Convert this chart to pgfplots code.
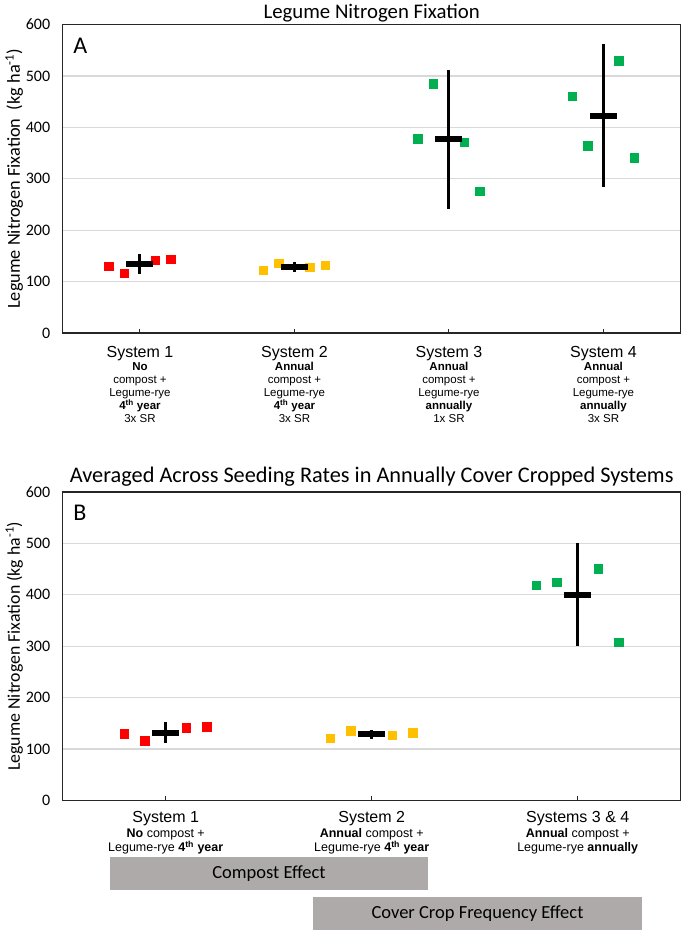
\documentclass[border=0pt]{standalone}
\usepackage{pgfplots}
\pgfplotsset{compat=1.18}
\usepackage{fontspec}
\setmainfont{Carlito}
\newfontfamily\arial{Liberation Sans}

\definecolor{sysred}{HTML}{FF0000}
\definecolor{sysyel}{HTML}{FFC000}
\definecolor{sysgrn}{HTML}{00B050}
\definecolor{boxgray}{HTML}{AEAAAA}
\definecolor{gridgray}{HTML}{D9D9D9}

\pgfplotsset{
  nfix/.style={
    scale only axis, width=618pt, height=308.5pt,
    xmin=0.5, ymin=0, ymax=600,
    ytick={0,100,...,600},
    ymajorgrids, grid style={gridgray, line width=1.2pt},
    axis line style={line width=1.4pt, black!85},
    ytick style={draw=none},
    xtick pos=left, tick align=inside, major tick length=4.5pt,
    xtick style={line width=1pt, black!85},
    /pgf/number format/assume math mode=true,
    yticklabel style={font=\fontsize{16}{16}\selectfont, xshift=-9pt},
    ylabel style={at={(rel axis cs:-0.0785,0.5)}, anchor=center},
    title style={at={(0.5,1)}, anchor=base},
    clip=false,
  },
  sq/.style={only marks, mark=square*, mark size=4.2pt, mark options={#1, line width=0pt}},
  meanbar/.style={only marks, mark=-, mark size=13.5pt, mark options={black, line width=6pt},
    error bars/.cd, y dir=both, y explicit, error mark=none,
    error bar style={black, line width=3pt}},
}

\begin{document}
\begin{tikzpicture}
\useasboundingbox (0,0) rectangle (683pt,-931pt);

% panel A
\begin{axis}[nfix, at={(62.7pt,-333pt)}, anchor=south west,
  xmax=4.5, xtick={1,2,3,4},
  title={Legume Nitrogen Fixation},
  title style={yshift=0.3pt, font=\fontsize{20.8}{20.8}\selectfont},
  ylabel={Legume Nitrogen Fixation\ \ (kg ha\textsuperscript{-1})},
  ylabel style={font=\fontsize{18.3}{18.3}\selectfont},
  xticklabel style={anchor=north, align=center, inner sep=0pt, yshift=-13pt,
    font=\arial\fontsize{11.5}{13}\selectfont},
  xticklabels={
    {{\fontsize{16}{13}\selectfont System 1}\\\textbf{No}\\compost +\\Legume-rye\\\textbf{4\textsuperscript{th} year}\\3x SR},
    {{\fontsize{16}{13}\selectfont System 2}\\\textbf{Annual}\\compost +\\Legume-rye\\\textbf{4\textsuperscript{th} year}\\3x SR},
    {{\fontsize{16}{13}\selectfont System 3}\\\textbf{Annual}\\compost +\\Legume-rye\\\textbf{annually}\\1x SR},
    {{\fontsize{16}{13}\selectfont System 4}\\\textbf{Annual}\\compost +\\Legume-rye\\\textbf{annually}\\3x SR}},
]
\addplot[sq=sysred] coordinates {(0.8,129.6) (0.9,116) (1.1,141) (1.2,142.5)};
\addplot[sq=sysyel] coordinates {(1.8,121) (1.9,135.5) (2.1,127) (2.2,131.6)};
\addplot[sq=sysgrn] coordinates {(2.8,377) (2.9,484) (3.1,370) (3.2,275)
                                 (3.8,460) (3.9,364) (4.1,529) (4.2,340)};
\addplot[meanbar] coordinates {
  (1,133.5) +- (0,19.5)
  (2,128) +- (0,9.5)
  (3,377) +- (0,135)
  (4,423) +- (0,139)
};
\node[anchor=base west, inner sep=0pt, xshift=10.5pt, yshift=-28.7pt,
  font=\fontsize{24}{24}\selectfont] at (rel axis cs:0,1) {A};
\end{axis}

% panel B
\begin{axis}[nfix, at={(62.7pt,-800.5pt)}, anchor=south west,
  xmax=3.5, xtick={1,2,3},
  title={Averaged Across Seeding Rates in Annually Cover Cropped Systems},
  title style={yshift=4pt, font=\fontsize{22.3}{22.3}\selectfont},
  ylabel={Legume Nitrogen Fixation (kg ha\textsuperscript{-1})},
  ylabel style={font=\fontsize{17.8}{17.8}\selectfont},
  xticklabel style={anchor=north, align=center, inner sep=0pt, yshift=-11pt,
    font=\arial\fontsize{12.5}{14.5}\selectfont},
  xticklabels={
    {{\fontsize{16}{14.5}\selectfont System 1}\\\textbf{No} compost +\\Legume-rye \textbf{4\textsuperscript{th} year}},
    {{\fontsize{16}{14.5}\selectfont System 2}\\\textbf{Annual} compost +\\Legume-rye \textbf{4\textsuperscript{th} year}},
    {{\fontsize{16}{14.5}\selectfont Systems 3 \& 4}\\\textbf{Annual} compost +\\Legume-rye \textbf{annually}}},
]
\addplot[sq=sysred] coordinates {(0.8,129) (0.9,116) (1.1,141) (1.2,143)};
\addplot[sq=sysyel] coordinates {(1.8,121) (1.9,135) (2.1,127) (2.2,131)};
\addplot[sq=sysgrn] coordinates {(2.8,418) (2.9,424) (3.1,450) (3.2,307)};
\addplot[meanbar] coordinates {
  (1,132) +- (0,20)
  (2,128.5) +- (0,9)
  (3,400) +- (0,100)
};
\node[anchor=base west, inner sep=0pt, xshift=10.5pt, yshift=-28.4pt,
  font=\fontsize{24}{24}\selectfont] at (rel axis cs:0,1) {B};
\end{axis}

% effect boxes
\fill[boxgray] (110pt,-857pt) rectangle (428pt,-890pt);
\node[font=\fontsize{18.5}{18.5}\selectfont] at (269pt,-873.5pt) {Compost Effect};
\fill[boxgray] (313pt,-897pt) rectangle (642pt,-930pt);
\node[font=\fontsize{18.5}{18.5}\selectfont] at (477.5pt,-913.5pt) {Cover Crop Frequency Effect};
\end{tikzpicture}
\end{document}
